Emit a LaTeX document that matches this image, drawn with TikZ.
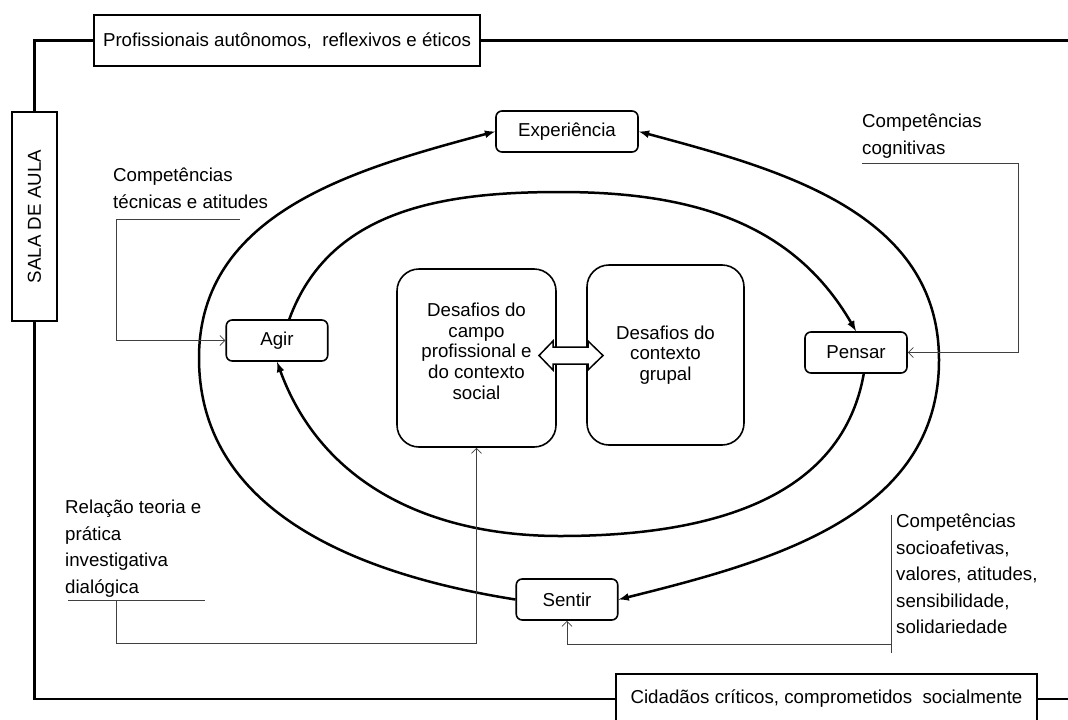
\documentclass[tikz,border=0pt]{standalone}
\usepackage{fontspec}
\setmainfont{Liberation Sans}
\usepackage{tikz}
\usetikzlibrary{arrows.meta}
\newcommand{\notefont}{\fontsize{18.7}{26.5}\selectfont}
\newcommand{\boxfont}{\fontsize{18.7}{20.7}\selectfont}

\begin{document}
\begin{tikzpicture}[x=1pt,y=1pt,
  plainbox/.style={draw,line width=1.6pt,fill=white,inner sep=0pt,font=\boxfont},
  stepbox/.style={plainbox,rounded corners=6pt,minimum height=41},
  bigbox/.style={plainbox,rounded corners=22pt,align=center},
  note/.style={anchor=north west,inner sep=0pt,align=left,font=\notefont},
  frame/.style={line width=2.8pt},
  flow/.style={line width=2.5pt},
  link/.style={line width=0.8pt,black!75,-{Straight Barb[length=5pt,width=10pt]}}]
  \useasboundingbox (0,0) rectangle (1068,-720);

  \node[plainbox,minimum width=386,minimum height=51] (profis) at (287,-40.5) {Profissionais autônomos,\ \ reflexivos e éticos};
  \node[plainbox,minimum width=209,minimum height=45,rotate=90] (sala) at (34.5,-216.5) {SALA DE AULA};
  \node[plainbox,minimum width=421,minimum height=50] (cidadaos) at (826.5,-699) {Cidadãos críticos, comprometidos\ \ socialmente};
  \coordinate (rgtTop) at (1068,-40.5);
  \coordinate (rgtBot) at (1068,-699);
  \draw[frame] (sala.east) |- (profis.west);
  \draw[frame] (profis.east) -- (rgtTop);
  \draw[frame] (sala.west) |- (cidadaos.west);
  \draw[frame] (cidadaos.east) -- (rgtBot);

  \node[stepbox,minimum width=142] (exper) at (567,-131.5) {Experiência};
  \node[stepbox,minimum width=101.5] (agir) at (277,-340.5) {Agir};
  \node[stepbox,minimum width=102] (pensar) at (856,-352.5) {Pensar};
  \node[stepbox,minimum width=101.5] (sentir) at (567,-599.5) {Sentir};
  \node[bigbox,minimum width=159,minimum height=178,text depth=14pt] (campo) at (476.5,-358) {Desafios do\\campo\\profissional e\\do contexto\\social};
  \node[bigbox,minimum width=157,minimum height=180] (grupo) at (665.5,-355) {\fontsize{18.7}{22}\selectfont Desafios do\\contexto\\grupal};
  \draw[line width=1.5pt,fill=white] (539,-355.5) -- (553,-341) -- (553,-347) -- (588,-347) -- (588,-341) -- (603,-355.5)
    -- (588,-370) -- (588,-364) -- (553,-364) -- (553,-370) -- cycle;

  \coordinate (lft) at (199,-358);
  \coordinate (rgt) at (939,-360);
  \coordinate (itop) at (560,-192);
  \coordinate (ibot) at (560,-536);
  \draw[flow,-latex] (sentir.west) to[out=171,in=-90] (lft) to[out=90,in=195] (exper.west);
  \draw[flow,latex-latex] (exper.east) to[out=-15,in=90] (rgt) to[out=-90,in=14] (sentir.east);
  \draw[flow,-latex] (agir.60) to[out=70,in=180] (itop) to[out=0,in=120] (pensar.north);
  \draw[flow,-latex] (pensar.-70) to[out=-100,in=0] (ibot) to[out=180,in=-70] (agir.south);

  \node[note] (tecnicas) at (113,-168) {Competências\\técnicas e atitudes};
  \node[note] (cognitivas) at (862,-114) {Competências\\cognitivas};
  \node[note] (relacao) at (65,-500) {Relação teoria e\\prática\\investigativa\\dialógica};
  \node[note] (socio) at (896,-514) {Competências\\socioafetivas,\\valores, atitudes,\\sensibilidade,\\solidariedade};

  \coordinate (tecA) at (240,-219);
  \coordinate (tecB) at (116,-219);
  \draw[link] (tecA) -- (tecB) |- (agir.west);
  \coordinate (cogA) at (862,-163);
  \coordinate (cogB) at (1018,-163);
  \draw[link] (cogA) -- (cogB) |- (pensar.east);
  \coordinate (relA) at (68,-600);
  \coordinate (relB) at (205,-600);
  \coordinate (relC) at (116,-600);
  \coordinate (relD) at (476.5,-643);
  \draw[link,-] (relA) -- (relB);
  \draw[link] (relC) |- (relD) -- (campo.south);
  \coordinate (socA) at (891.5,-515);
  \coordinate (socB) at (891.5,-653);
  \coordinate (socC) at (891.5,-644);
  \draw[link,-] (socA) -- (socB);
  \draw[link] (socC) -| (sentir.south);
\end{tikzpicture}
\end{document}
